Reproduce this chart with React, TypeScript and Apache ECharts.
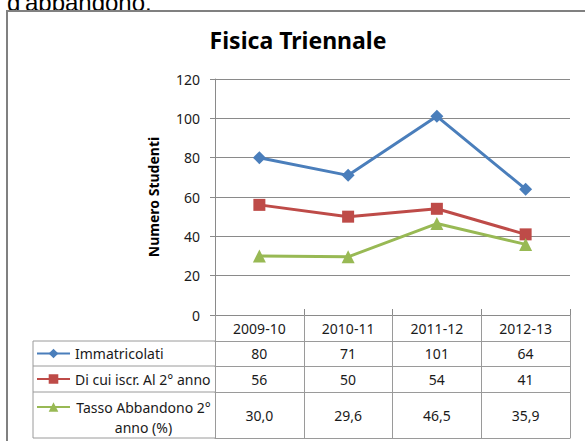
import React, { useEffect, useRef } from 'react';
import * as echarts from 'echarts';

const categories = ['2009-10', '2010-11', '2011-12', '2012-13'];
const immatricolati = [80, 71, 101, 64];
const iscrittiSecondoAnno = [56, 50, 54, 41];
const tassoAbbandono = [30.0, 29.6, 46.5, 35.9];
const seriesNames = ['Immatricolati', 'Di cui iscr. Al 2° anno', 'Tasso Abbandono 2° anno (%)'];
const yMin = 0;
const yMax = 120;
const yInterval = 20;
const chartTitle = 'Fisica Triennale';
const yAxisName = 'Numero Studenti';
const captionText = "d'abbandono.";

const colors = ['#4A7EBB', '#BE4B48', '#98B954'];
const FONT = '"Noto Sans", "Open Sans", sans-serif';
const GRID_L = 215;
const GRID_R = 570;
const GRID_T = 79;
const GRID_B = 315;
const W = 585;
const H = 441;
const lineGray = '#8a8a8a';
const tableGray = '#9a9a9a';
const textCol = '#1a1a1a';

const fmtComma = (v: number) => v.toFixed(1).replace('.', ',');

export default function App() {
  const ref = useRef<HTMLDivElement>(null);
  useEffect(() => {
    if (!ref.current) return;
    const chart = echarts.init(ref.current, undefined, { renderer: 'svg' });

    const rowOffsets = [0, 26, 51, 77, 123];
    const rowValues: string[][] = [
      categories,
      immatricolati.map(String),
      iscrittiSecondoAnno.map(String),
      tassoAbbandono.map(fmtComma),
    ];

    const tableAxes: any[] = [];
    for (let r = 0; r < 4; r++) {
      const h = rowOffsets[r + 1] - rowOffsets[r];
      const vals = rowValues[r];
      tableAxes.push({
        type: 'category',
        gridIndex: 0,
        position: 'bottom',
        offset: rowOffsets[r],
        data: categories,
        boundaryGap: true,
        axisLine: { show: true, lineStyle: { color: r === 0 ? lineGray : tableGray, width: 1 } },
        axisTick: { show: true, inside: false, length: h, interval: 0, lineStyle: { color: tableGray, width: 1 } },
        axisLabel: {
          show: true,
          interval: 0,
          margin: h / 2,
          verticalAlign: 'middle',
          color: textCol,
          fontFamily: FONT,
          fontSize: 14,
          formatter: (_v: string, i: number) => vals[i],
        },
        splitLine: { show: false },
      });
    }
    tableAxes.push({
      type: 'category',
      gridIndex: 0,
      position: 'bottom',
      offset: rowOffsets[4],
      data: categories,
      axisLine: { show: true, lineStyle: { color: tableGray, width: 1 } },
      axisTick: { show: false },
      axisLabel: { show: false },
    });
    tableAxes.push({
      type: 'category',
      gridIndex: 0,
      position: 'bottom',
      offset: 0,
      data: categories,
      axisLine: { show: false },
      axisTick: { show: true, inside: true, length: 6, interval: 0, lineStyle: { color: lineGray } },
      axisLabel: { show: false },
    });

    const symbols = ['diamond', 'rect', 'triangle'];
    const symbolSizes = [13, 12, 13];
    const datasets = [immatricolati, iscrittiSecondoAnno, tassoAbbandono];

    const series = datasets.map((d, i) => ({
      name: seriesNames[i],
      type: 'line',
      xAxisIndex: 0,
      yAxisIndex: 0,
      data: d,
      symbol: symbols[i],
      symbolSize: symbolSizes[i],
      showSymbol: true,
      lineStyle: { color: colors[i], width: 3 },
      itemStyle: { color: colors[i] },
      z: 3 + i,
    }));

    const legendBase = {
      orient: 'horizontal',
      left: 36,
      padding: 0,
      itemWidth: 33,
      itemHeight: 12,
      selectedMode: false,
      textStyle: { color: textCol, fontFamily: FONT, fontSize: 14, lineHeight: 16 },
    };

    const option: any = {
      animation: false,
      backgroundColor: '#ffffff',
      title: {
        text: chartTitle,
        left: 298,
        top: 28,
        textAlign: 'center',
        padding: 0,
        textStyle: { fontFamily: FONT, fontWeight: 'bold', fontSize: 23, color: '#000' },
      },
      legend: [
        { ...legendBase, top: 345.5, data: [seriesNames[0]] },
        { ...legendBase, top: 371, data: [seriesNames[1]] },
        {
          ...legendBase,
          top: 377,
          data: [seriesNames[2]],
          formatter: () => '{a|Tasso Abbandono 2°}\n{a|anno (%)}',
          textStyle: {
            color: textCol,
            fontFamily: FONT,
            fontSize: 14,
            lineHeight: 20,
            padding: [20, 0, 0, 0],
            rich: {
              a: { width: 137, align: 'center', fontFamily: FONT, fontSize: 14, lineHeight: 20, color: textCol },
            },
          },
        },
      ],
      grid: { left: GRID_L, right: W - GRID_R, top: GRID_T, bottom: H - GRID_B, containLabel: false },
      xAxis: tableAxes,
      yAxis: {
        type: 'value',
        min: yMin,
        max: yMax,
        interval: yInterval,
        name: yAxisName,
        nameLocation: 'middle',
        nameGap: 55,
        nameRotate: 90,
        nameTextStyle: { fontFamily: FONT, fontWeight: 'bold', fontSize: 14, color: '#000' },
        axisLine: { show: true, lineStyle: { color: lineGray, width: 1 } },
        axisTick: { show: true, inside: false, length: 5, lineStyle: { color: lineGray } },
        axisLabel: { margin: 15, color: textCol, fontFamily: FONT, fontSize: 14 },
        splitLine: { show: true, lineStyle: { color: lineGray, width: 1 } },
      },
      series,
      graphic: [
        {
          type: 'text',
          x: 7,
          y: 2,
          silent: true,
          style: {
            text: captionText,
            fontFamily: '"Liberation Sans", Arial, sans-serif',
            fontSize: 24,
            fill: '#000',
            verticalAlign: 'middle',
          },
        },
        {
          type: 'rect',
          silent: true,
          shape: { x: 7, y: 11, width: 620, height: 500 },
          style: { fill: 'none', stroke: '#808080', lineWidth: 2 },
        },
        ...[26, 51, 77, 123].map((o) => ({
          type: 'line',
          silent: true,
          shape: { x1: 33, y1: GRID_B + o, x2: GRID_L, y2: GRID_B + o },
          style: { stroke: tableGray, lineWidth: 1 },
        })),
        {
          type: 'line',
          silent: true,
          shape: { x1: 33, y1: GRID_B + 26, x2: 33, y2: GRID_B + 123 },
          style: { stroke: tableGray, lineWidth: 1 },
        },
      ],
    };

    chart.setOption(option);
    return () => chart.dispose();
  }, []);

  return (
    <div
      ref={ref}
      style={{ position: 'fixed', left: 0, top: 0, width: W, height: H, background: '#fff' }}
    />
  );
}
